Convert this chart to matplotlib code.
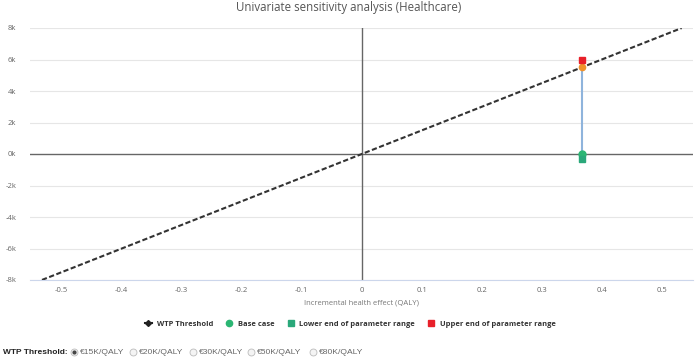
import matplotlib
matplotlib.use("Agg")
import matplotlib.pyplot as plt
from matplotlib.lines import Line2D
import numpy as np

# ---- data ----
wtp_threshold = 15000          # EUR per QALY
wtp_x = [-0.533, 0.533]
param_x = 0.367
base_case = 0
lower_end = -300
upper_end = 6000
xticks = [-0.5, -0.4, -0.3, -0.2, -0.1, 0, 0.1, 0.2, 0.3, 0.4, 0.5]
xtick_labels = ["-0.5", "-0.4", "-0.3", "-0.2", "-0.1", "0", "0.1", "0.2", "0.3", "0.4", "0.5"]
yticks = [-8000, -6000, -4000, -2000, 0, 2000, 4000, 6000, 8000]
ytick_labels = ["-8k", "-6k", "-4k", "-2k", "0k", "2k", "4k", "6k", "8k"]
radio_labels = ["€15K/QALY", "€20K/QALY", "€30K/QALY", "€50K/QALY", "€80K/QALY"]

plt.rcParams['font.family'] = ['Open Sans', 'DejaVu Sans']

fig = plt.figure(figsize=(6.98, 3.6), dpi=100)
ax = fig.add_axes([30/698, 1-280/360, 663/698, 252/360])

grid_c = "#e6e6e6"
for y in yticks:
    if y != 0:
        ax.axhline(y, color=grid_c, lw=0.8, zorder=0)
ax.axhline(0, color="#666666", lw=1.0, zorder=1)
ax.axvline(0, color="#666666", lw=1.0, zorder=1)

wtp_y = [wtp_threshold * x for x in wtp_x]
ax.plot(wtp_x, wtp_y, color="#333333", lw=1.5, ls=(0, (2.5, 1.2)), zorder=3)

icer_y = wtp_threshold * param_x
ax.plot([param_x, param_x], [base_case, icer_y], color="#8fb4dc", lw=1.5, zorder=2)
ax.plot(param_x, icer_y, 'o', color="#f0922b", ms=4.5, zorder=5)
ax.plot(param_x, base_case, 'o', color="#2bb673", ms=5, zorder=5)
ax.plot(param_x, lower_end, 's', color="#2aa87a", ms=4.5, zorder=5)
ax.plot(param_x, upper_end, 's', color="#e8202a", ms=4.5, zorder=5)

ax.set_xlim(-0.553, 0.552)
ax.set_ylim(-8000, 8000)
ax.set_xticks(xticks)
ax.set_xticklabels(xtick_labels)
ax.set_yticks(yticks)
ax.set_yticklabels(ytick_labels)
ax.tick_params(axis='both', length=0, labelsize=5.5, labelcolor="#666666")
ax.tick_params(axis='x', pad=5)
ax.tick_params(axis='y', pad=10)
for s in ax.spines.values():
    s.set_visible(False)
ax.spines['bottom'].set_visible(True)
ax.spines['bottom'].set_color("#ccd6eb")
ax.set_xlabel("Incremental health effect (QALY)", fontsize=5.5, color="#777777", labelpad=4)

fig.text(0.5, 1-8/360, "Univariate sensitivity analysis (Healthcare)", ha='center', va='center',
         fontsize=8.3, color="#555555")

handles = [
    Line2D([0], [0], color="#222222", lw=1.5, ls='-', marker='D', ms=3, markerfacecolor="#222222"),
    Line2D([0], [0], color='none', marker='o', ms=4.5, markerfacecolor="#2bb673", markeredgecolor="#2bb673"),
    Line2D([0], [0], color='none', marker='s', ms=4.5, markerfacecolor="#2aa87a", markeredgecolor="#2aa87a"),
    Line2D([0], [0], color='none', marker='s', ms=4.5, markerfacecolor="#e8202a", markeredgecolor="#e8202a"),
]
labels = ["WTP Threshold", "Base case", "Lower end of parameter range", "Upper end of parameter range"]
leg = fig.legend(handles, labels, loc='center', bbox_to_anchor=(350/698, 1-324/360), ncol=4,
                 frameon=False, prop={'size': 5.4, 'weight': 'bold'}, handlelength=1.0,
                 handletextpad=0.6, columnspacing=1.7)
for t in leg.get_texts():
    t.set_color("#333333")

ry = 1-352/360
fig.text(3/698, ry, "WTP Threshold:", fontsize=6.0, fontweight='bold', color="#222222",
         family=['Liberation Sans', 'DejaVu Sans'], va='center', ha='left')
radio_x = [74, 133, 193, 251, 313]
for i, (rx, lab) in enumerate(zip(radio_x, radio_labels)):
    fig.add_artist(Line2D([rx/698], [ry], transform=fig.transFigure, marker='o', ms=5,
                          markerfacecolor="#f4f4f4", markeredgecolor="#bbbbbb", markeredgewidth=0.6))
    if i == 0:
        fig.add_artist(Line2D([rx/698], [ry], transform=fig.transFigure, marker='o', ms=2,
                              markerfacecolor="#444444", markeredgecolor="#444444"))
    fig.text((rx+5.5)/698, ry, lab, fontsize=6.1, color="#666666",
             family=['Liberation Sans', 'DejaVu Sans'], va='center', ha='left')

fig.savefig("out.png", dpi=100)
